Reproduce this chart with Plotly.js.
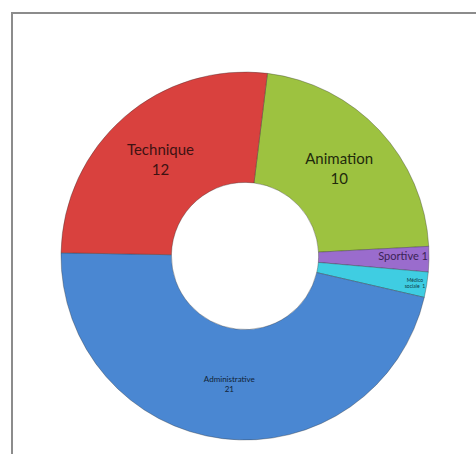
<!DOCTYPE html>
<html>
<head>
<meta charset="utf-8">
<script src="https://cdn.plot.ly/plotly-3.0.1.min.js"></script>
<style>
  html, body { margin: 0; padding: 0; background: #ffffff; overflow: hidden; }
  #frame { position: absolute; left: 11px; top: 12px; width: 480px; height: 460px;
           border-left: 2px solid #8c8c8c; border-top: 2px solid #8c8c8c; }
  #chart { position: absolute; left: 0; top: 0; width: 476px; height: 454px; }
</style>
</head>
<body>
<div id="frame"></div>
<div id="chart"></div>
<script>
// Categories in clockwise order starting near 12 o'clock
const categories = ['Animation', 'Sportive', 'Médico sociale', 'Administrative', 'Technique'];
const values = [10, 1, 1, 21, 12];
// How each data label is laid out in the reference
const labelTexts = ['Animation<br>10', 'Sportive 1', 'Médico<br>sociale  1', 'Administrative<br>21', 'Technique<br>12'];

const sliceColors = ['#9dc240', '#9a6ccd', '#3fcde2', '#4a87d2', '#d9413e'];
const textColors = ['#1f2a0c', '#3a2356', '#0f3c46', '#101f36', '#3e1212'];
const textSizes = [15, 14, 11, 8, 15];

const trace = {
  type: 'pie',
  labels: categories,
  values: values,
  text: labelTexts,
  textinfo: 'text',
  textposition: 'inside',
  insidetextorientation: 'horizontal',
  hole: 0.4,
  sort: false,
  direction: 'clockwise',
  rotation: 7,
  marker: { colors: sliceColors, line: { color: 'rgba(50,50,50,0.35)', width: 1 } },
  textfont: { family: 'Lato, "Open Sans", sans-serif', color: textColors, size: textSizes },
  showlegend: false,
  hoverinfo: 'label+value'
};

const layout = {
  width: 476,
  height: 454,
  margin: { l: 61, r: 47, t: 72, b: 14 },
  paper_bgcolor: 'rgba(0,0,0,0)',
  plot_bgcolor: 'rgba(0,0,0,0)',
  showlegend: false,
  uniformtext: { mode: false }
};

Plotly.newPlot('chart', [trace], layout, { displayModeBar: false, staticPlot: true });
</script>
</body>
</html>
